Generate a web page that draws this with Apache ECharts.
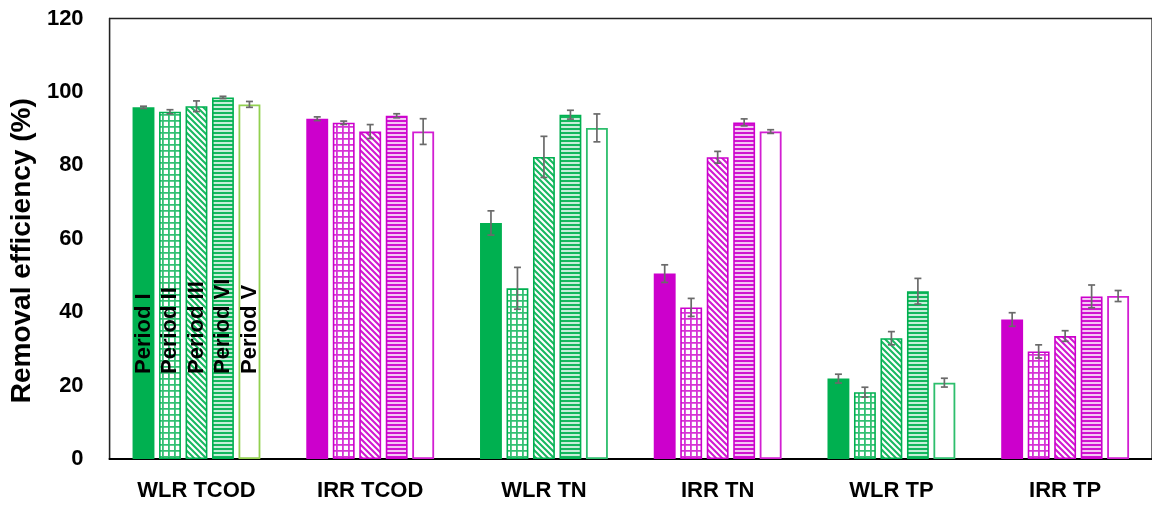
<!DOCTYPE html>
<html>
<head>
<meta charset="utf-8">
<script src="https://cdn.jsdelivr.net/npm/echarts@6/dist/echarts.min.js"></script>
<style>
html,body{margin:0;padding:0;background:#fff;}
#chart{width:1152px;height:508px;}
</style>
</head>
<body>
<div id="chart"></div>
<script>
// ---- data ----
const categories = ['WLR TCOD', 'IRR TCOD', 'WLR TN', 'IRR TN', 'WLR TP', 'IRR TP'];
const periods = ['Period I', 'Period II', 'Period III', 'Period VI', 'Period V'];
const periodI   = [95.8, 92.7, 64.3, 50.5, 21.9, 38.0];
const periodII  = [94.6, 91.6, 46.5, 41.3, 18.2, 29.3];
const periodIII = [96.1, 89.2, 82.3, 82.2, 32.9, 33.5];
const periodVI  = [98.5, 93.5, 93.8, 91.7, 45.7, 44.3];
const periodV   = [96.6, 89.2, 90.2, 89.2, 20.8, 44.4];
const errI   = [0.3, 0.5, 3.3, 2.4, 1.2, 1.85];
const errII  = [0.55, 0.45, 5.7, 2.45, 1.35, 1.8];
const errIII = [1.45, 1.9, 5.6, 1.6, 1.8, 1.45];
const errVI  = [0.3, 0.55, 1.2, 0.95, 3.5, 3.1];
const errV   = [0.8, 3.5, 3.8, 0.5, 1.2, 1.5];
const yTicks = [0, 20, 40, 60, 80, 100, 120];

const seriesValues = [periodI, periodII, periodIII, periodVI, periodV];
const seriesErrors = [errI, errII, errIII, errVI, errV];
const patternKinds = ['solid', 'grid', 'diag', 'hline', 'empty'];

// ---- styles ----
const GREEN = '#00B050';
const MAG = '#CC00CC';
const FONT = '"Liberation Sans", Arial, sans-serif';
const BAR_W = 0.126;   // fraction of band
const BAR_GAP = 0.21;  // fraction of bar width

function makePattern(kind, color) {
  const c = document.createElement('canvas');
  let ctx;
  if (kind === 'grid') {
    c.width = 6; c.height = 6; ctx = c.getContext('2d');
    ctx.fillStyle = '#fff'; ctx.fillRect(0, 0, 6, 6);
    ctx.globalAlpha = 0.8; ctx.fillStyle = color;
    ctx.beginPath(); ctx.rect(0, 0, 6, 1.8); ctx.rect(0, 0, 1.8, 6); ctx.fill();
  } else if (kind === 'diag') {
    c.width = 6; c.height = 6; ctx = c.getContext('2d');
    ctx.fillStyle = '#fff'; ctx.fillRect(0, 0, 6, 6);
    ctx.strokeStyle = color; ctx.lineWidth = 2.1; ctx.globalAlpha = 0.9;
    ctx.beginPath();
    for (let k = -12; k <= 12; k += 6) { ctx.moveTo(-1, k - 1); ctx.lineTo(7, k + 7); }
    ctx.stroke();
  } else if (kind === 'hline') {
    c.width = 4; c.height = 4; ctx = c.getContext('2d');
    ctx.fillStyle = '#fff'; ctx.fillRect(0, 0, 4, 4);
    ctx.globalAlpha = 0.22; ctx.fillStyle = color; ctx.fillRect(0, 0, 4, 4);
    ctx.globalAlpha = 0.9; ctx.fillRect(0, 0, 4, 2);
  }
  return { image: c, repeat: 'repeat' };
}

function itemStyleFor(kind, catIdx) {
  const isWLR = catIdx % 2 === 0;
  const color = isWLR ? GREEN : MAG;
  if (kind === 'solid') return { color: color, borderColor: color, borderWidth: 0 };
  if (kind === 'empty') {
    let bc = isWLR ? '#2DBE6C' : '#D21ED2';
    if (catIdx === 0) bc = '#92D050';
    return { color: '#fff', borderColor: bc, borderWidth: 1.8 };
  }
  return { color: makePattern(kind, color), borderColor: color, borderWidth: 1.6 };
}

const barSeries = seriesValues.map((vals, s) => ({
  name: periods[s],
  type: 'bar',
  barWidth: (BAR_W * 100) + '%',
  barGap: (BAR_GAP * 100) + '%',
  z: 2,
  data: vals.map((v, i) => {
    const item = { value: v, itemStyle: itemStyleFor(patternKinds[s], i) };
    if (i === 0) {
      item.label = {
        show: true,
        formatter: periods[s],
        position: 'insideBottom',
        distance: 85,
        rotate: 90,
        align: 'left',
        verticalAlign: 'middle',
        color: '#000',
        fontFamily: FONT,
        fontWeight: 'bold',
        fontSize: 22
      };
    }
    return item;
  })
}));

const errData = [];
seriesValues.forEach((vals, s) => {
  vals.forEach((v, i) => errData.push([i, s, v, seriesErrors[s][i]]));
});

const errSeries = {
  type: 'custom',
  z: 5,
  silent: true,
  encode: { x: 0, y: 2 },
  data: errData,
  renderItem: function (params, api) {
    const cat = api.value(0), s = api.value(1), v = api.value(2), e = api.value(3);
    const band = api.size([1, 0])[0];
    const w = band * BAR_W;
    const step = w * (1 + BAR_GAP);
    const c = api.coord([cat, v]);
    const x = c[0] + (s - 2) * step;
    const yt = api.coord([cat, v + e])[1];
    const yb = api.coord([cat, v - e])[1];
    const cap = 3.5;
    const st = { stroke: '#6A6A6A', lineWidth: 1.7 };
    return {
      type: 'group',
      children: [
        { type: 'line', shape: { x1: x, y1: yt, x2: x, y2: yb }, style: st },
        { type: 'line', shape: { x1: x - cap, y1: yt, x2: x + cap, y2: yt }, style: st },
        { type: 'line', shape: { x1: x - cap, y1: yb, x2: x + cap, y2: yb }, style: st }
      ]
    };
  }
};

const chart = echarts.init(document.getElementById('chart'), null, { renderer: 'canvas' });
chart.setOption({
  animation: false,
  backgroundColor: '#fff',
  grid: {
    left: 108, top: 18.5, bottom: 49, right: -3,
    show: true, borderColor: '#222', borderWidth: 1.3, backgroundColor: 'transparent'
  },
  xAxis: {
    type: 'category',
    data: categories,
    axisTick: { show: false },
    axisLine: { show: true, lineStyle: { color: '#000', width: 2.2 } },
    axisLabel: {
      interval: 0, margin: 21, color: '#000',
      fontFamily: FONT, fontWeight: 'bold', fontSize: 22
    },
    splitLine: { show: false }
  },
  yAxis: {
    type: 'value',
    min: yTicks[0], max: yTicks[yTicks.length - 1], interval: yTicks[1] - yTicks[0],
    name: 'Removal efficiency (%)',
    nameLocation: 'middle',
    nameGap: 62,
    nameTextStyle: {
      color: '#000', fontFamily: FONT, fontWeight: 'bold', fontSize: 28,
      padding: [0, 24, 0, 0]
    },
    axisLine: { show: true, lineStyle: { color: '#222', width: 1.3 } },
    axisTick: { show: false },
    splitLine: { show: false },
    axisLabel: {
      margin: 26, color: '#000',
      fontFamily: FONT, fontWeight: 'bold', fontSize: 22
    }
  },
  series: barSeries.concat([errSeries])
});
</script>
</body>
</html>
